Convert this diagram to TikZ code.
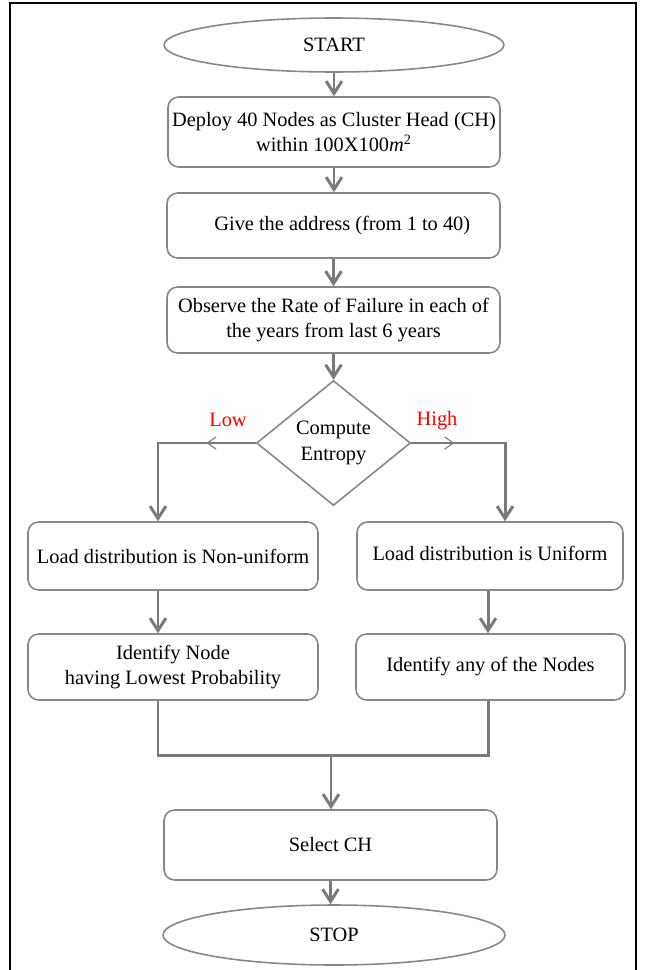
\documentclass[tikz,border=0pt]{standalone}
\usepackage{fontspec}
\setmainfont{Liberation Serif}
\usetikzlibrary{shapes.geometric, arrows.meta, decorations.markings}
\definecolor{linegray}{RGB}{122,122,122}
\definecolor{boxgray}{RGB}{135,135,135}
\tikzstyle{startstop} = [ellipse, draw=boxgray, line width=0.9pt, inner sep=0pt]
\tikzstyle{process} = [rectangle, rounded corners=6pt, draw=boxgray, line width=0.9pt, inner sep=0pt, align=center]
\tikzstyle{decision} = [diamond, draw=boxgray, line width=0.9pt, inner sep=0pt, align=center]
\tikzstyle{flow} = [line width=1.7pt, draw=linegray]
\tikzstyle{arrow} = [flow, -{Straight Barb[length=7pt,width=9pt]}]
\tikzstyle{midarrow} = [postaction={decorate}, decoration={markings, mark=at position #1 with {\arrow{Straight Barb[length=5pt,width=7pt,line width=0.6pt]}}}]

\begin{document}
\begin{tikzpicture}[x=0.02cm, y=-0.02cm, font=\fontsize{11.6}{14.5}\selectfont]

\useasboundingbox (0,0) rectangle (646,970);
\draw[black, line width=1.4pt] (10,975) -- (10,3) -- (636,3) -- (636,975);

\node[startstop, minimum width=6.8cm, minimum height=1.08cm] (start) at (334,45) {START};
\node[process, minimum width=6.64cm, minimum height=1.4cm] (deploy) at (334,132) {Deploy 40 Nodes as Cluster Head (CH)\\within 100X100\textit{m}\textsuperscript{2}};
\node[process, minimum width=6.66cm, minimum height=1.3cm] (addr) at (333.5,225.5) {\hspace{10pt}Give the address (from 1 to 40)};
\node[process, minimum width=6.66cm, minimum height=1.32cm] (observe) at (333.5,320) {Observe the Rate of Failure in each of\\the years from last 6 years};
\node[decision, minimum width=3.08cm, minimum height=2.5cm] (entropy) at (333.5,443) {Compute\\Entropy};

\node[text=red] (low) at (228,420) {Low};
\node[text=red] (high) at (437,421) {High};

\node[process, minimum width=5.8cm, minimum height=1.36cm] (nonuni) at (173,556) {Load distribution is Non-uniform};
\node[process, minimum width=5.32cm, minimum height=1.36cm] (uni) at (490,556) {\raisebox{3pt}{Load distribution is Uniform}};
\node[process, minimum width=5.8cm, minimum height=1.32cm] (lowest) at (173,667) {Identify Node\hspace{10pt}\\having Lowest Probability\hspace{10pt}};
\node[process, minimum width=5.38cm, minimum height=1.32cm] (anynode) at (490.5,667) {Identify any of the Nodes};
\node[process, minimum width=6.66cm, minimum height=1.4cm] (select) at (330.5,845) {Select CH};
\node[startstop, minimum width=6.84cm, minimum height=1.2cm] (stop) at (334,935) {STOP};

\coordinate (lx) at (158,443);
\coordinate (rx) at (505,443);
\coordinate (dx) at (488,0);
\coordinate (merge) at (331,755);

\foreach \a/\b in {start/deploy, deploy/addr, addr/observe, observe/entropy, select/stop}
{
\draw[arrow] (\a.south) -- (\a.south |- \b.north);
}

\draw[arrow, midarrow=0.28] (entropy.west) -- (lx) -- (lx |- nonuni.north);
\draw[arrow, midarrow=0.25] (entropy.east) -- (rx) -- (rx |- uni.north);

\draw[arrow] (nonuni.south -| lx) -- (lowest.north -| lx);
\draw[arrow] (uni.south -| dx) -- (anynode.north -| dx);

\draw[flow] (lowest.south -| lx) |- (merge) -| (anynode.south -| dx);
\draw[arrow] (merge) -- (select.north -| merge);

\end{tikzpicture}
\end{document}
